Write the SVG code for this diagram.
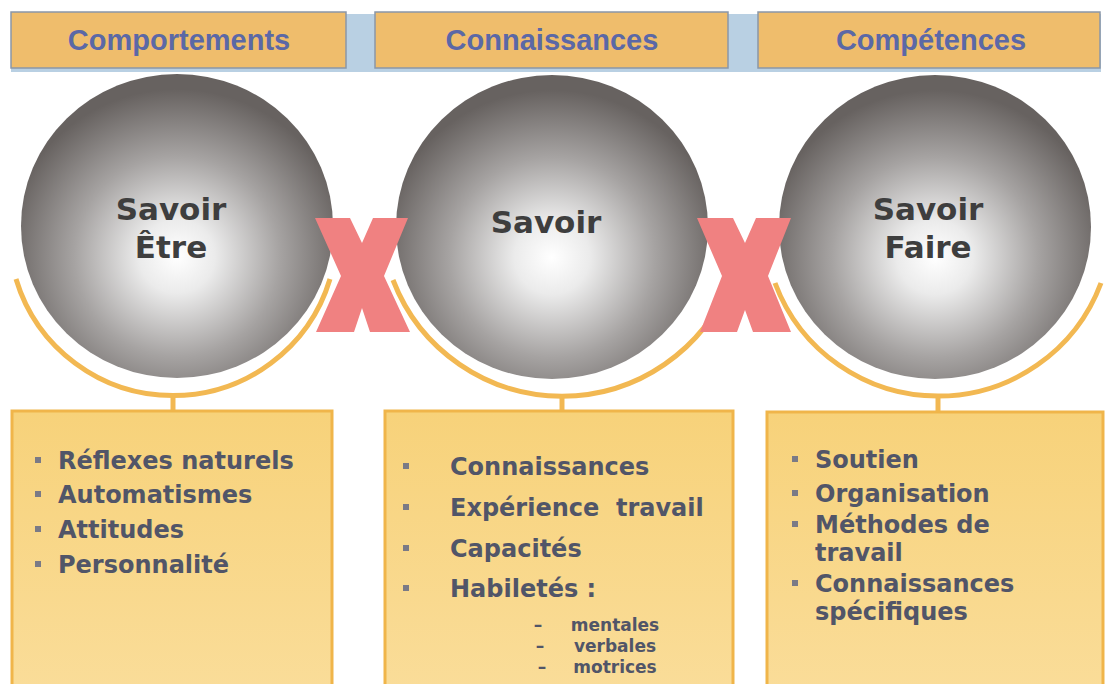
<svg xmlns="http://www.w3.org/2000/svg" width="1107" height="684" viewBox="0 0 1107 684">
<style>
.hdr{fill:#efbd6c;stroke:#8a97a8;stroke-width:1.5}
.htxt{font-family:"Liberation Sans",Arial,sans-serif;font-weight:bold;font-size:29px;fill:#5b68a6;text-anchor:middle}
.stxt{font-family:"DejaVu Sans",Verdana,sans-serif;font-weight:bold;font-size:31px;fill:#3e3e3e;text-anchor:middle}
.box{fill:url(#boxg);stroke:#f0b54a;stroke-width:3}
.btxt{font-family:"DejaVu Sans",Verdana,sans-serif;font-weight:bold;font-size:24px;fill:#515568;white-space:pre}
.sub{font-family:"DejaVu Sans",Verdana,sans-serif;font-weight:bold;font-size:17px;fill:#515568;text-anchor:middle}
.bul{fill:#7a7a86}
.arc{fill:none;stroke:#f2b852;stroke-width:5}
.xm{fill:#f08181}
</style>
<defs>
<radialGradient id="sph" cx="0.5" cy="0.6" r="0.55">
<stop offset="0" stop-color="#ffffff"/>
<stop offset="0.22" stop-color="#ebebeb"/>
<stop offset="0.6" stop-color="#a6a3a2"/>
<stop offset="1" stop-color="#676260"/>
</radialGradient>
<linearGradient id="boxg" x1="0" y1="0" x2="0" y2="1">
<stop offset="0" stop-color="#f7d27a"/>
<stop offset="1" stop-color="#fadd9a"/>
</linearGradient>
</defs>
<rect width="1107" height="684" fill="#ffffff"/>
<g id="header-band">
<rect x="11" y="14" width="1090" height="58" fill="#b9d0e3"/>
</g>
<g id="hdr-comportements">
<rect class="hdr" x="11" y="12" width="335" height="56"/>
<text class="htxt" x="179" y="50">Comportements</text>
</g>
<g id="hdr-connaissances">
<rect class="hdr" x="375" y="12" width="353" height="56"/>
<text class="htxt" x="552" y="50">Connaissances</text>
</g>
<g id="hdr-competences">
<rect class="hdr" x="758" y="12" width="342" height="56"/>
<text class="htxt" x="931" y="50">Compétences</text>
</g>
<g id="sphere-savoir-etre">
<ellipse cx="177" cy="226" rx="156" ry="152" fill="url(#sph)"/>
<text class="stxt" x="171" y="220">Savoir</text>
<text class="stxt" x="171" y="258">Être</text>
</g>
<g id="sphere-savoir">
<ellipse cx="552" cy="227" rx="156" ry="152" fill="url(#sph)"/>
<text class="stxt" x="546" y="233">Savoir</text>
</g>
<g id="sphere-savoir-faire">
<ellipse cx="935" cy="227" rx="156" ry="152" fill="url(#sph)"/>
<text class="stxt" x="928" y="220">Savoir</text>
<text class="stxt" x="928" y="258">Faire</text>
</g>
<g id="connectors">
<path class="arc" d="M 16 279 A 164 164 0 0 0 330 279"/>
<path class="arc" d="M 393 280 A 181 181 0 0 0 731 280"/>
<path class="arc" d="M 775 283 A 174 174 0 0 0 1101 283"/>
<line class="arc" x1="173" y1="395" x2="173" y2="412"/>
<line class="arc" x1="562" y1="395" x2="562" y2="412"/>
<line class="arc" x1="938" y1="395" x2="938" y2="413"/>
</g>
<g id="times-1">
<polygon class="xm" points="315,218 350,218 362,243 373,218 408,218 384,276 410,332 370,332 362,308 354,332 316,332 341,276"/>
</g>
<g id="times-2">
<polygon class="xm" points="697,218 733,218 745,243 756,218 791,218 768,276 791,332 753,332 745,310 737,332 700,332 722,276"/>
</g>
<g id="box-etre">
<rect class="box" x="12" y="411" width="320" height="290"/>
<rect class="bul" x="35" y="457" width="6" height="6"/>
<rect class="bul" x="35" y="491" width="6" height="6"/>
<rect class="bul" x="35" y="526" width="6" height="6"/>
<rect class="bul" x="35" y="561" width="6" height="6"/>
<text class="btxt" x="58" y="469">Réflexes naturels</text>
<text class="btxt" x="58" y="503">Automatismes</text>
<text class="btxt" x="58" y="538">Attitudes</text>
<text class="btxt" x="58" y="573">Personnalité</text>
</g>
<g id="box-savoir">
<rect class="box" x="385" y="411" width="348" height="290"/>
<rect class="bul" x="403" y="463" width="6" height="6"/>
<rect class="bul" x="403" y="504" width="6" height="6"/>
<rect class="bul" x="403" y="545" width="6" height="6"/>
<rect class="bul" x="403" y="585" width="6" height="6"/>
<text class="btxt" x="450" y="475">Connaissances</text>
<text class="btxt" x="450" y="516">Expérience  travail</text>
<text class="btxt" x="450" y="557">Capacités</text>
<text class="btxt" x="450" y="597">Habiletés :</text>
<text class="sub" x="538" y="631">–</text>
<text class="sub" x="615" y="631">mentales</text>
<text class="sub" x="540" y="652">–</text>
<text class="sub" x="615" y="652">verbales</text>
<text class="sub" x="542" y="673">–</text>
<text class="sub" x="615" y="673">motrices</text>
</g>
<g id="box-faire">
<rect class="box" x="767" y="412" width="336" height="290"/>
<rect class="bul" x="792" y="456" width="6" height="6"/>
<rect class="bul" x="792" y="490" width="6" height="6"/>
<rect class="bul" x="792" y="521" width="6" height="6"/>
<rect class="bul" x="792" y="580" width="6" height="6"/>
<text class="btxt" x="815" y="468">Soutien</text>
<text class="btxt" x="815" y="502">Organisation</text>
<text class="btxt" x="815" y="533">Méthodes de</text>
<text class="btxt" x="815" y="561">travail</text>
<text class="btxt" x="815" y="592">Connaissances</text>
<text class="btxt" x="815" y="620">spécifiques</text>
</g>
</svg>
